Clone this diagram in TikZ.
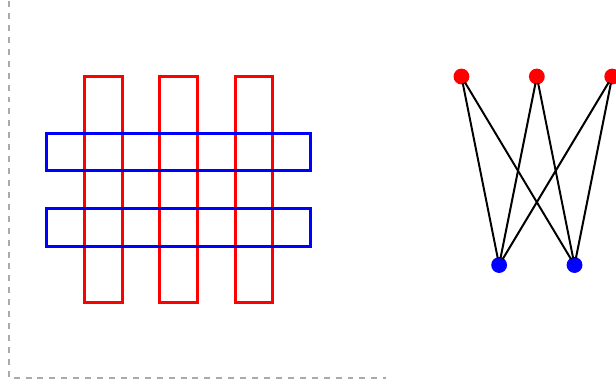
\documentclass[tikz,border=0pt]{standalone}
\usepackage{xcolor}
\definecolor{axgray}{RGB}{170,170,170}
\usetikzlibrary{positioning}
\tikzset{
  redbar/.style={draw=red, line width=2.2pt},
  bluebar/.style={draw=blue, line width=2.2pt},
  topdot/.style={circle, fill=red, inner sep=0pt, minimum size=0.42cm},
  botdot/.style={circle, fill=blue, inner sep=0pt, minimum size=0.42cm},
  edge/.style={black, line width=1.5pt, shorten <=-1pt, shorten >=-1pt},
}
\begin{document}
\begin{tikzpicture}
\useasboundingbox (-0.239,-0.159) rectangle (16.10,10.03);

% Axes
\draw[axgray, line width=1.1pt, dash pattern=on 4.5pt off 4.5pt] (0,10) -- (0,0) -- (10,0);

% Vertical bars
\draw[redbar] (2,2) rectangle (3,8);
\draw[redbar] (4,2) rectangle (5,8);
\draw[redbar] (6,2) rectangle (7,8);

% Horizontal bars
\draw[bluebar] (1,5.5) rectangle (8,6.5);
\draw[bluebar] (1,3.5) rectangle (8,4.5);

% Graph nodes
\node[topdot] (r1) at (12,8) {};
\node[topdot] (r2) at (14,8) {};
\node[topdot] (r3) at (16,8) {};
\node[botdot] (b1) at (13,3) {};
\node[botdot] (b2) at (15,3) {};

% Edges
\draw[edge] (r1) -- (b1);
\draw[edge] (r1) -- (b2);
\draw[edge] (r2) -- (b1);
\draw[edge] (r2) -- (b2);
\draw[edge] (r3) -- (b1);
\draw[edge] (r3) -- (b2);

\end{tikzpicture}
\end{document}
